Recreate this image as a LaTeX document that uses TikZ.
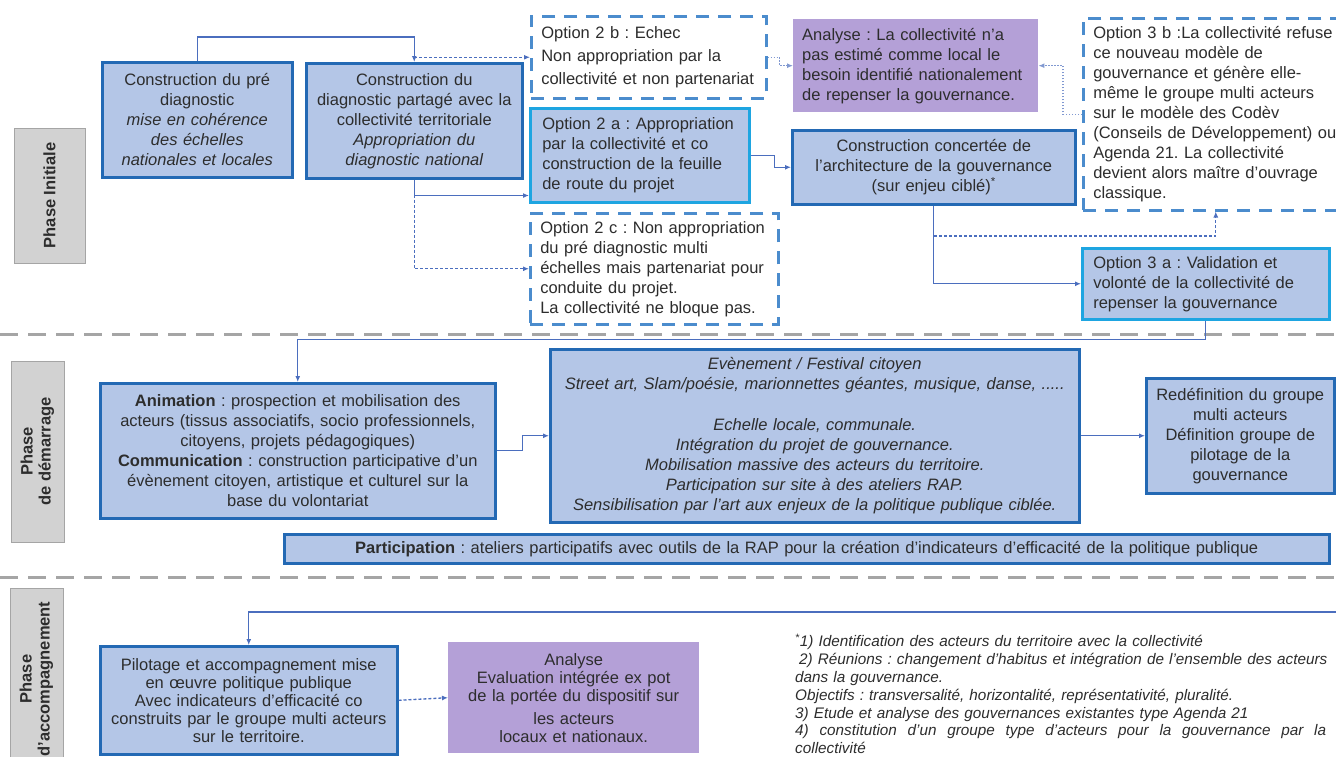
\documentclass[tikz,border=0pt]{standalone}
\usepackage{fontspec}
\setmainfont{Liberation Sans}
\usetikzlibrary{arrows.meta,calc}
\definecolor{boxfill}{RGB}{180,198,231}
\definecolor{boxdk}{RGB}{35,105,180}
\definecolor{boxsky}{RGB}{30,165,225}
\definecolor{boxdash}{RGB}{75,140,205}
\definecolor{purp}{RGB}{180,160,215}
\definecolor{conn}{RGB}{75,110,190}
\definecolor{sepgray}{RGB}{165,165,165}
\definecolor{lblfill}{RGB}{210,210,210}
\definecolor{lblborder}{RGB}{165,165,165}
\definecolor{txt}{RGB}{45,45,45}
\frenchspacing
\hyphenpenalty=10000
\exhyphenpenalty=10000
\begin{document}
\begin{tikzpicture}[x=1pt,y=-1pt,
  every node/.style={inner sep=0pt, text=txt, font=\fontsize{16.5}{20}\selectfont},
  blk/.style={anchor=north west, align=center},
  dkbox/.style={blk, draw=boxdk, line width=2.5pt, fill=boxfill},
  skybox/.style={blk, draw=boxsky, line width=2.5pt, fill=boxfill},
  dbox/.style={blk, draw=boxdash, line width=2.5pt, dash pattern=on 13pt off 9pt},
  pbox/.style={blk, fill=purp},
  lbl/.style={draw=lblborder, line width=1pt, fill=lblfill, rotate=90, align=center,
    font=\fontsize{16.5}{18}\selectfont\bfseries},
  sep/.style={draw=sepgray, line width=3pt, dash pattern=on 18pt off 10pt},
  arr/.style={draw=conn, line width=1.3pt, -{Latex[length=6pt,width=5pt]}},
  darr/.style={arr, dash pattern=on 3pt off 2pt},
  oarr/.style={arr, draw=conn!70, dash pattern=on 1.5pt off 1.5pt}
]
\useasboundingbox (0,0) rectangle (1336,756);
\clip (0,0) rectangle (1336,756);
\fill[white] (0,0) rectangle (1336,756);

% separators
\draw[sep] (0,334) -- (1336,334);
\draw[sep] (0,577) -- (1336,577);

% phase labels
\node[lbl, minimum width=135pt, minimum height=71pt] (ph1) at (49.5,195.5) {Phase Initiale};
\node[lbl, minimum width=181pt, minimum height=53pt] (ph2) at (37.5,451.5) {Phase\\de démarrage};
\node[lbl, minimum width=182pt, minimum height=53pt] (ph3) at (36.5,679) {Phase\\d'accompagnement};

% top row
\node[dkbox, minimum width=190pt, minimum height=115pt, text width=182pt] (b1) at (101,61)
  {Construction du pré\\diagnostic\\{\itshape mise en cohérence}\\{\itshape des échelles}\\{\itshape nationales et locales}};
\node[dkbox, minimum width=216pt, minimum height=115pt, text width=208pt] (b2) at (305,62)
  {Construction du\\diagnostic partagé avec la\\collectivité territoriale\\{\itshape Appropriation du}\\{\itshape diagnostic national}};
\node[dbox, align=left, minimum width=235pt, minimum height=82pt, text width=215pt,
  font=\fontsize{16.5}{23}\selectfont] (opt2b) at (530,15)
  {Option 2 b : Echec\\Non appropriation par la\\collectivité et non partenariat};
\node[skybox, align=left, minimum width=219pt, minimum height=94pt, text width=195pt] (opt2a) at (529,107)
  {Option 2 a : Appropriation\\par la collectivité et co\\construction de la feuille\\de route du projet};
\node[dbox, align=left, minimum width=248pt, minimum height=111pt, text width=228pt] (opt2c) at (529,212)
  {Option 2 c : Non appropriation\\du pré diagnostic multi\\échelles mais partenariat pour\\conduite du projet.\\La collectivité ne bloque pas.};
\node[pbox, align=left, minimum width=245pt, minimum height=93pt, text width=227pt] (an1) at (793,19)
  {Analyse : La collectivité n'a\\pas estimé comme local le\\besoin identifié nationalement\\de repenser la gouvernance.};
\node[dkbox, minimum width=283pt, minimum height=74pt, text width=272pt] (conc) at (791,129)
  {Construction concertée de\\l'architecture de la gouvernance\\(sur enjeu ciblé)\textsuperscript{*}};
\node[dbox, align=left, minimum width=265pt, minimum height=192pt, text width=245pt] (opt3b) at (1082,17)
  {Option 3 b :La collectivité refuse\\ce nouveau modèle de\\gouvernance et génère elle-\\même le groupe multi acteurs\\sur le modèle des Codèv\\(Conseils de Développement) ou\\Agenda 21. La collectivité\\devient alors maître d'ouvrage\\classique.};
\node[skybox, align=left, minimum width=247pt, minimum height=71pt, text width=225pt] (opt3a) at (1081,247)
  {Option 3 a : Validation et\\volonté de la collectivité de\\repenser la gouvernance};

% middle row
\node[dkbox, minimum width=395pt, minimum height=135pt, text width=387pt] (anim) at (99,382)
  {\textbf{Animation} : prospection et mobilisation des\\acteurs (tissus associatifs, socio professionnels,\\citoyens, projets pédagogiques)\\\textbf{Communication} : construction participative d'un\\évènement citoyen, artistique et culturel sur la\\base du volontariat};
\node[dkbox, minimum width=529pt, minimum height=173pt, text width=519pt] (ev) at (549,348)
  {{\itshape Evènement / Festival citoyen}\\{\itshape Street art, Slam/poésie, marionnettes géantes, musique, danse, .....}\\[21pt]{\itshape Echelle locale, communale.}\\{\itshape Intégration du projet de gouvernance.}\\{\itshape Mobilisation massive des acteurs du territoire.}\\{\itshape Participation sur site à des ateliers RAP.}\\{\itshape Sensibilisation par l'art aux enjeux de la politique publique ciblée.}};
\node[dkbox, minimum width=188pt, minimum height=115pt, text width=182pt] (red) at (1145,377)
  {Redéfinition du groupe\\multi acteurs\\Définition groupe de\\pilotage de la\\gouvernance};
\node[dkbox, minimum width=1045pt, minimum height=29pt, text width=1035pt] (part) at (283,533)
  {\textbf{Participation} : ateliers participatifs avec outils de la RAP pour la création d'indicateurs d'efficacité de la politique publique};

% bottom row
\node[dkbox, minimum width=297pt, minimum height=108pt, text width=290pt,
  font=\fontsize{16.5}{18}\selectfont] (pil) at (99,645)
  {Pilotage et accompagnement mise\\en œuvre politique publique\\Avec indicateurs d'efficacité co\\construits par le groupe multi acteurs\\sur le territoire.};
\node[pbox, minimum width=251pt, minimum height=111pt, text width=245pt,
  font=\fontsize{16.5}{18}\selectfont] (an2) at (448,642)
  {Analyse\\Evaluation intégrée ex pot\\de la portée du dispositif sur\\[5pt]les acteurs\\locaux et nationaux.};
\node[anchor=north west, align=left, text width=533pt,
  font=\fontsize{15.3}{17.8}\selectfont\itshape] (foot) at (795,634)
  {\textsuperscript{*}1) Identification des acteurs du territoire avec la collectivité\\
  \hspace*{4pt}2) Réunions : changement d'habitus et intégration de l'ensemble des acteurs\\
  dans la gouvernance.\\
  Objectifs : transversalité, horizontalité, représentativité, pluralité.\\
  3) Etude et analyse des gouvernances existantes type Agenda 21\\
  \leavevmode\hbox to 531pt{4)\hfill constitution\hfill d'un\hfill groupe\hfill type\hfill d'acteurs\hfill pour\hfill la\hfill gouvernance\hfill par\hfill la}\\
  collectivité};

% connectors
\draw[arr] (b1.north) -- ++(0,-24) -| (b2.north);
\draw[darr] (b2.north |- opt2b.west) -- (opt2b.west);
\draw[arr] (b2.south) |- ([yshift=8pt]opt2a.south west);
\draw[darr] (b2.south) |- (opt2c.west);
\draw[arr] (opt2a.east) -- ++(24,0) |- (conc.west);
\draw[oarr] (opt2b.east) -- ++(12,0) |- (an1.west);
\draw[oarr] (opt3b.west) -- ++(-19,0) |- (an1.east);
\draw[arr] (conc.south) |- (opt3a.west);
\draw[darr] (conc.south |- 0,236) -| (opt3b.south);
\draw[arr] (opt3a.south) -- ++(0,19) -| (anim.north);
\draw[arr] (anim.east) -- ++(26,0) |- (ev.west);
\draw[arr] (ev.east) -- (red.west);
\coordinate (rin) at (1340,612);
\draw[arr] (rin) -| (pil.north);
\draw[darr] (pil.east) -- (an2.west);
\end{tikzpicture}
\end{document}
